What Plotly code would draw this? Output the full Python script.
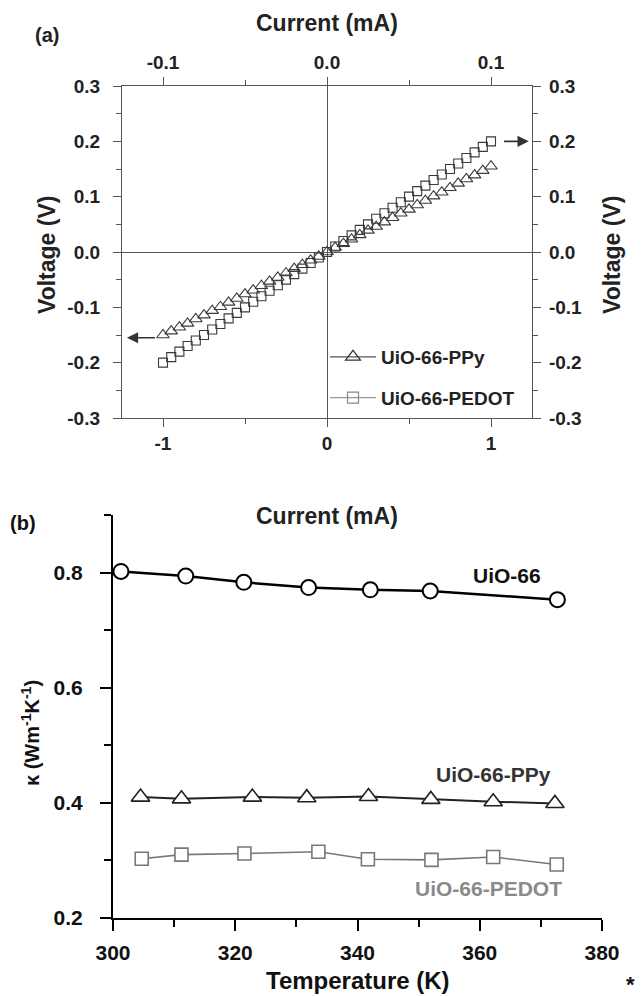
import plotly.graph_objects as go

W, H = 641, 996
FONT = "Liberation Sans, Arial, sans-serif"

# ---------------- Panel (a) data ----------------
current_ma = [-1.00, -0.95, -0.90, -0.85, -0.80, -0.75, -0.70, -0.65, -0.60, -0.55,
              -0.50, -0.45, -0.40, -0.35, -0.30, -0.25, -0.20, -0.15, -0.10, -0.05,
              0.00, 0.05, 0.10, 0.15, 0.20, 0.25, 0.30, 0.35, 0.40, 0.45,
              0.50, 0.55, 0.60, 0.65, 0.70, 0.75, 0.80, 0.85, 0.90, 0.95, 1.00]
voltage_ppy = [-0.150, -0.143, -0.136, -0.129, -0.121, -0.114, -0.106, -0.099, -0.091, -0.084,
               -0.076, -0.069, -0.061, -0.053, -0.046, -0.038, -0.030, -0.023, -0.015, -0.008,
               0.000, 0.008, 0.015, 0.023, 0.031, 0.039, 0.046, 0.054, 0.062, 0.070,
               0.077, 0.085, 0.093, 0.101, 0.108, 0.116, 0.124, 0.132, 0.139, 0.147, 0.155]
voltage_pedot = [-0.200, -0.190, -0.180, -0.170, -0.160, -0.150, -0.140, -0.130, -0.120, -0.110,
                 -0.100, -0.090, -0.080, -0.070, -0.060, -0.050, -0.040, -0.030, -0.020, -0.010,
                 0.000, 0.010, 0.020, 0.030, 0.040, 0.050, 0.060, 0.070, 0.080, 0.090,
                 0.100, 0.110, 0.120, 0.130, 0.140, 0.150, 0.160, 0.170, 0.180, 0.190, 0.200]

a_bottom_ticks = [-1, 0, 1]
a_bottom_labels = ["-1", "0", "1"]
a_top_ticks = [-0.1, 0.0, 0.1]
a_top_labels = ["-0.1", "0.0", "0.1"]
a_y_ticks = [-0.3, -0.2, -0.1, 0.0, 0.1, 0.2, 0.3]
a_y_labels = ["-0.3", "-0.2", "-0.1", "0.0", "0.1", "0.2", "0.3"]

# ---------------- Panel (b) data ----------------
t_uio66 = [301.3, 311.9, 321.4, 332.0, 342.1, 351.9, 372.7]
k_uio66 = [0.802, 0.794, 0.783, 0.774, 0.770, 0.768, 0.753]
t_ppy = [304.5, 311.2, 322.8, 331.7, 341.8, 352.0, 362.2, 372.3]
k_ppy = [0.410, 0.407, 0.410, 0.409, 0.411, 0.406, 0.402, 0.399]
t_pedot = [304.7, 311.2, 321.5, 333.6, 341.7, 352.1, 362.2, 372.6]
k_pedot = [0.303, 0.310, 0.312, 0.315, 0.302, 0.301, 0.306, 0.293]

b_x_ticks = [300, 320, 340, 360, 380]
b_y_ticks = [0.2, 0.4, 0.6, 0.8]
b_y_labels = ["0.2", "0.4", "0.6", "0.8"]


def px(x):
    return x / W


def py(y):
    return 1 - y / H


A_LINE = "#555555"
A_TEXT = "#222222"

fig = go.Figure()

# Panel (a) data traces
fig.add_trace(go.Scatter(x=current_ma, y=voltage_ppy, mode="markers", xaxis="x", yaxis="y",
                         marker=dict(symbol="triangle-up-open", size=11,
                                     color="#3a3a3a", line=dict(width=1.1)),
                         showlegend=False, cliponaxis=False))
fig.add_trace(go.Scatter(x=current_ma, y=voltage_pedot, mode="markers", xaxis="x", yaxis="y",
                         marker=dict(symbol="square-open", size=9,
                                     color="#3a3a3a", line=dict(width=1.1)),
                         showlegend=False, cliponaxis=False))
# legend entries for panel (a)
fig.add_trace(go.Scatter(x=[None], y=[None], mode="lines+markers", xaxis="x", yaxis="y",
                         name="UiO-66-PPy", legendgroup="g1",
                         line=dict(color="#555555", width=1.2),
                         marker=dict(symbol="triangle-up-open", size=13, color="#333333",
                                     line=dict(width=1.2))))
fig.add_trace(go.Scatter(x=[None], y=[None], mode="lines+markers", xaxis="x", yaxis="y",
                         name="UiO-66-PEDOT", legendgroup="g2",
                         line=dict(color="#999999", width=1.2),
                         marker=dict(symbol="square-open", size=11, color="#888888",
                                     line=dict(width=1.2))))
# dummy trace on top/right axes
fig.add_trace(go.Scatter(x=[None], y=[None], xaxis="x2", yaxis="y2", showlegend=False,
                         hoverinfo="skip"))

# Panel (b)
fig.add_trace(go.Scatter(x=t_uio66, y=k_uio66, mode="lines+markers", xaxis="x3", yaxis="y3",
                         line=dict(color="#000000", width=2.5),
                         marker=dict(symbol="circle", size=15, color="white",
                                     line=dict(color="#000000", width=2)),
                         showlegend=False, cliponaxis=False))
fig.add_trace(go.Scatter(x=t_ppy, y=k_ppy, mode="lines+markers", xaxis="x3", yaxis="y3",
                         line=dict(color="#222222", width=2),
                         marker=dict(symbol="triangle-up", size=16, color="white",
                                     line=dict(color="#222222", width=1.6)),
                         showlegend=False, cliponaxis=False))
fig.add_trace(go.Scatter(x=t_pedot, y=k_pedot, mode="lines+markers", xaxis="x3", yaxis="y3",
                         line=dict(color="#777777", width=1.6),
                         marker=dict(symbol="square", size=13, color="white",
                                     line=dict(color="#777777", width=1.6)),
                         showlegend=False, cliponaxis=False))

tickfont_a = dict(family=FONT, size=19, color=A_TEXT, weight="bold")
tickfont_b = dict(family=FONT, size=21, color="#111111", weight="bold")

common_a = dict(showgrid=False, showline=True, linecolor=A_LINE, linewidth=1.3,
                ticks="outside", ticklen=8, tickwidth=1.3, tickcolor=A_LINE,
                tickfont=tickfont_a, automargin=False)

fig.update_layout(
    width=W, height=H,
    margin=dict(l=0, r=0, t=0, b=0),
    paper_bgcolor="white", plot_bgcolor="white",
    font=dict(family=FONT, color=A_TEXT),
    xaxis=dict(domain=[px(122), px(532)], range=[-1.25, 1.25], anchor="y",
               tickmode="array", tickvals=a_bottom_ticks, ticktext=a_bottom_labels,
               minor=dict(tickmode="linear", tick0=0, dtick=0.5, ticks="outside",
                          ticklen=5, tickcolor=A_LINE, tickwidth=1.3),
               zeroline=True, zerolinecolor=A_LINE, zerolinewidth=1.2,
               ticklabelstandoff=0, **common_a),
    yaxis=dict(domain=[py(418), py(86)], range=[-0.3, 0.3], anchor="x",
               tickmode="array", tickvals=a_y_ticks, ticktext=a_y_labels,
               minor=dict(tickmode="linear", tick0=0, dtick=0.05, ticks="outside",
                          ticklen=5, tickcolor=A_LINE, tickwidth=1.3),
               zeroline=True, zerolinecolor=A_LINE, zerolinewidth=1.2,
               ticklabelstandoff=9, **common_a),
    xaxis2=dict(overlaying="x", side="top", anchor="y", range=[-0.125, 0.125],
                tickmode="array", tickvals=a_top_ticks, ticktext=a_top_labels,
                minor=dict(tickmode="linear", tick0=0, dtick=0.05, ticks="outside",
                           ticklen=5, tickcolor=A_LINE, tickwidth=1.3),
                zeroline=False, ticklabelstandoff=0, **common_a),
    yaxis2=dict(overlaying="y", side="right", anchor="x", range=[-0.3, 0.3],
                tickmode="array", tickvals=a_y_ticks, ticktext=a_y_labels,
                minor=dict(tickmode="linear", tick0=0, dtick=0.05, ticks="outside",
                           ticklen=5, tickcolor=A_LINE, tickwidth=1.3),
                zeroline=False, ticklabelstandoff=4, **common_a),
    xaxis3=dict(domain=[px(113), px(602)], range=[300, 380], anchor="y3",
                tickmode="array", tickvals=b_x_ticks,
                minor=dict(tickmode="linear", tick0=300, dtick=10, ticks="outside",
                           ticklen=7, tickcolor="#000000", tickwidth=1.8),
                showgrid=False, zeroline=False, showline=True, linecolor="#000000",
                linewidth=2, ticks="outside", ticklen=11, tickwidth=1.8, automargin=False,
                tickcolor="#000000", tickfont=tickfont_b, ticklabelstandoff=4),
    yaxis3=dict(domain=[py(918), py(515)], range=[0.2, 0.9], anchor="x3",
                tickmode="array", tickvals=b_y_ticks, ticktext=b_y_labels,
                minor=dict(tickmode="linear", tick0=0.2, dtick=0.1, ticks="outside",
                           ticklen=7, tickcolor="#000000", tickwidth=1.8),
                showgrid=False, zeroline=False, showline=True, linecolor="#000000",
                linewidth=2, ticks="outside", ticklen=11, tickwidth=1.8, automargin=False,
                tickcolor="#000000", tickfont=tickfont_b, ticklabelstandoff=13),
    legend=dict(x=px(325), y=py(338), xanchor="left", yanchor="top",
                bgcolor="rgba(0,0,0,0)", borderwidth=0, traceorder="grouped",
                tracegroupgap=13, itemwidth=46,
                font=dict(family=FONT, size=19, color=A_TEXT, weight="bold")),
)

title_font_a = dict(family=FONT, size=23, color=A_TEXT, weight="bold")
title_font_b = dict(family=FONT, size=24, color="#111111", weight="bold")

annots = [
    dict(text="(a)", x=px(47), y=py(35), font=dict(family=FONT, size=20, color=A_TEXT, weight="bold")),
    dict(text="Current (mA)", x=px(327), y=py(23), font=title_font_a),
    dict(text="Current (mA)", x=px(327), y=py(516), font=title_font_a),
    dict(text="Voltage (V)", x=px(47), y=py(255), textangle=-90, font=title_font_a),
    dict(text="Voltage (V)", x=px(612), y=py(255), textangle=-90, font=title_font_a),
    dict(text="(b)", x=px(23), y=py(523), font=dict(family=FONT, size=20, color="#111111", weight="bold")),
    dict(text="Temperature (K)", x=px(358), y=py(980), font=title_font_b),
    dict(text="κ (Wm<sup>-1</sup>K<sup>-1</sup>)", x=px(30), y=py(733), textangle=-90,
         font=dict(family=FONT, size=20, color="#111111", weight="bold")),
    dict(text="UiO-66", x=px(507), y=py(575), font=dict(family=FONT, size=21, color="#111111", weight="bold")),
    dict(text="UiO-66-PPy", x=px(493), y=py(774), font=dict(family=FONT, size=21, color="#333333", weight="bold")),
    dict(text="UiO-66-PEDOT", x=px(488), y=py(888), font=dict(family=FONT, size=21, color="#8a8a8a", weight="bold")),
    dict(text="*", x=px(630), y=py(984), font=dict(family=FONT, size=22, color="#111111", weight="bold")),
]
for a in annots:
    a.update(xref="paper", yref="paper", showarrow=False, xanchor="center", yanchor="middle")
    fig.add_annotation(**a)

# arrows in panel (a)
fig.add_annotation(x=-1.22, y=-0.155, ax=-1.04, ay=-0.155, xref="x", yref="y",
                   axref="x", ayref="y", text="", showarrow=True, arrowhead=2,
                   arrowsize=1.4, arrowwidth=1.6, arrowcolor="#333333")
fig.add_annotation(x=1.23, y=0.2, ax=1.07, ay=0.2, xref="x", yref="y",
                   axref="x", ayref="y", text="", showarrow=True, arrowhead=2,
                   arrowsize=1.4, arrowwidth=1.6, arrowcolor="#333333")

fig.write_html("out.html", config={"displayModeBar": False},
               post_script="document.body.style.margin='0';document.body.style.padding='0';")
